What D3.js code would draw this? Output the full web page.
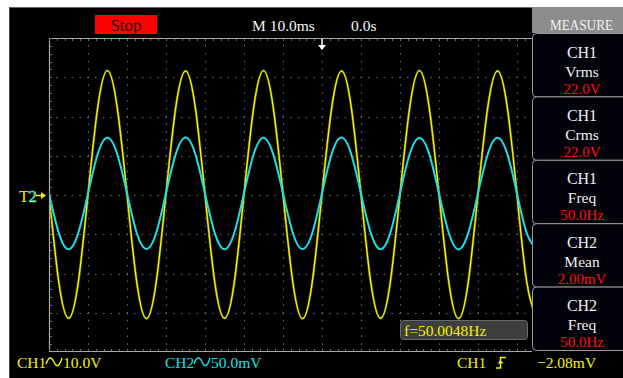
<!DOCTYPE html>
<html><head><meta charset="utf-8">
<script src="https://cdn.jsdelivr.net/npm/d3@7"></script>
<style>html,body{margin:0;padding:0;background:#fff;overflow:hidden}text{font-family:"Liberation Serif",serif}</style>
</head><body><svg id="c" width="623" height="378"></svg>
<script>
const timeMs = [-70,-67.5,-65,-62.5,-60,-57.5,-55,-52.5,-50,-47.5,-45,-42.5,-40,-37.5,-35,-32.5,-30,-27.5,-25,-22.5,-20,-17.5,-15,-12.5,-10,-7.5,-5,-2.5,0,2.5,5,7.5,10,12.5,15,17.5,20,22.5,25,27.5,30,32.5,35,37.5,40,42.5,45,47.5,50,52.5,55];
const ch1Volts = [0.2,-22.1,-31.4,-22.3,0.1,22.4,31.7,22.2,0.2,-22.2,-31.5,-22.1,0.3,22.3,31.6,22.4,0.1,-22.2,-31.4,-22.3,0.2,22.4,31.7,22.3,0.2,-22.1,-31.5,-22.2,0.3,22.3,31.6,22.4,0.1,-22.2,-31.4,-22.3,0.2,22.4,31.7,22.2,0.2,-22.1,-31.5,-22.2,0.3,22.3,31.6,22.4,0.1,-22.2,-31.4];
const ch2MilliVolts = [2.5,-48.2,-69.1,-48.6,1.8,52.3,72.8,51.9,2.2,-48.4,-68.7,-48.1,2.4,52.1,73.2,52.4,1.9,-48.3,-69.2,-48.5,2.1,52.2,72.9,51.8,2.3,-48.0,-68.8,-48.4,2.0,52.5,73.1,52.0,1.7,-48.2,-69.0,-48.6,2.4,52.3,72.7,52.1,2.0,-48.1,-69.3,-48.3,2.2,52.0,73.0,52.4,1.9,-48.5,-68.9];
const gridTimes = [-70,-60,-50,-40,-30,-20,-10,0,10,20,30,40,50,60,70];
const gridVolts = [-40,-30,-20,-10,0,10,20,30,40];
const measureChannels = ["CH1","CH1","CH1","CH2","CH2"];
const measureNames = ["Vrms","Crms","Freq","Mean","Freq"];
const measureValues = ["22.0V","22.0V","50.0Hz","2.00mV","50.0Hz"];
const statusText = "Stop", timebaseText = "M 10.0ms", delayText = "0.0s";
const ch1ScaleText = "10.0V", ch2ScaleText = "50.0mV";
const trigText = "CH1", trigLevelText = "\u22122.08mV", freqText = "f=50.0048Hz";

const YEL = "#f2f200", CYA = "#18e0e6", GRID = "#6e6e6e", BORDER = "#a8a8a8";
const svg = d3.select("#c");
const W = 623, H = 378;
const L = 49, T = 38, B = 352, R = 532;

// background
svg.append("rect").attr("width", W).attr("height", H).attr("fill", "#fff");
svg.append("rect").attr("x", 9).attr("y", 7).attr("width", W - 9).attr("height", H - 7).attr("fill", "#000");
svg.append("line").attr("x1", 9).attr("x2", W).attr("y1", 7.5).attr("y2", 7.5).attr("stroke", "#666");
svg.append("line").attr("x1", 9.5).attr("x2", 9.5).attr("y1", 7).attr("y2", H).attr("stroke", "#444");

// scales
const x = d3.scaleLinear().domain([-70, 70]).range([L, L + 14 * 39]);
const y1 = d3.scaleLinear().domain([-40, 40]).range([B, T]);
const y2 = d3.scaleLinear().domain([-200, 200]).range([B, T]);

svg.append("defs").append("clipPath").attr("id", "plot")
  .append("rect").attr("x", L).attr("y", T).attr("width", R - L).attr("height", B - T);

const g = svg.append("g").attr("clip-path", "url(#plot)");
const minor = 39 / 5, minorY = (B - T) / 40;
// vertical dotted grid
g.selectAll(".vg").data(gridTimes.slice(1)).join("line")
  .attr("x1", d => Math.round(x(d)) + 0.5).attr("x2", d => Math.round(x(d)) + 0.5)
  .attr("y1", T).attr("y2", B)
  .attr("stroke", GRID).attr("stroke-width", 1)
  .attr("stroke-dasharray", `1.5,${minorY - 1.5}`).attr("stroke-dashoffset", 0.75);
// horizontal dotted grid
g.selectAll(".hg").data(gridVolts.slice(1, -1)).join("line")
  .attr("x1", L).attr("x2", R)
  .attr("y1", d => Math.round(y1(d)) + 0.5).attr("y2", d => Math.round(y1(d)) + 0.5)
  .attr("stroke", GRID).attr("stroke-width", 1)
  .attr("stroke-dasharray", `1.5,${minor - 1.5}`).attr("stroke-dashoffset", 0.75);

// border
svg.append("path").attr("d", `M${R},${T + 0.5}H${L + 0.5}V${B - 0.5}H${R}`)
  .attr("fill", "none").attr("stroke", BORDER).attr("stroke-width", 1.2);
// border ticks
const topTicks = d3.range(L, R, minor);
svg.selectAll(".tt").data(topTicks).join("line")
  .attr("x1", d => Math.round(d) + 0.5).attr("x2", d => Math.round(d) + 0.5)
  .attr("y1", T + 1).attr("y2", T + 3).attr("stroke", GRID);
const leftTicks = d3.range(T, B, minorY);
svg.selectAll(".lt").data(leftTicks).join("line")
  .attr("y1", d => Math.round(d) + 0.5).attr("y2", d => Math.round(d) + 0.5)
  .attr("x1", L + 1).attr("x2", L + 3).attr("stroke", GRID);
svg.selectAll(".bt").data(topTicks).join("line")
  .attr("x1", d => Math.round(d) + 0.5).attr("x2", d => Math.round(d) + 0.5)
  .attr("y1", B - 3).attr("y2", B - 1).attr("stroke", GRID);

// traces
const pts1 = timeMs.map((t, i) => [t, ch1Volts[i]]);
const pts2 = timeMs.map((t, i) => [t, ch2MilliVolts[i]]);
const line1 = d3.line().x(d => x(d[0])).y(d => y1(d[1])).curve(d3.curveNatural);
const line2 = d3.line().x(d => x(d[0])).y(d => y2(d[1])).curve(d3.curveNatural);
g.append("path").attr("d", line1(pts1)).attr("fill", "none").attr("stroke", "#8a8a00").attr("stroke-width", 2.6).attr("opacity", 0.6);
g.append("path").attr("d", line1(pts1)).attr("fill", "none").attr("stroke", YEL).attr("stroke-width", 1.4);
g.append("path").attr("d", line2(pts2)).attr("fill", "none").attr("stroke", CYA).attr("stroke-width", 2);

// trigger position arrow (top)
svg.append("line").attr("x1", x(0)).attr("x2", x(0)).attr("y1", T + 1).attr("y2", 46).attr("stroke", "#fff").attr("stroke-width", 1.5);
svg.append("path").attr("d", `M${x(0) - 4},45L${x(0) + 4},45L${x(0)},50Z`).attr("fill", "#fff");

// channel / trigger marker (left): "T" + "2" (CH1/CH2 markers coincide)
const my = y1(0);
const mk = svg.append("text").attr("x", 19).attr("y", my + 7).attr("font-size", 16).attr("fill", YEL);
mk.append("tspan").text("T");
mk.append("tspan").attr("fill", YEL).attr("stroke", CYA).attr("stroke-width", 0.6).text("2");
svg.append("line").attr("x1", 36).attr("x2", 42).attr("y1", my + 0.5).attr("y2", my + 0.5).attr("stroke", YEL).attr("stroke-width", 1.5);
svg.append("path").attr("d", `M41,${my - 3}L46,${my + 0.5}L41,${my + 4}Z`).attr("fill", YEL);

// top status
svg.append("rect").attr("x", 95).attr("y", 15).attr("width", 62).attr("height", 19).attr("fill", "#ff0000");
svg.append("text").attr("x", 126).attr("y", 30.5).attr("text-anchor", "middle").attr("font-size", 17).attr("fill", "#200000").text(statusText);
svg.append("text").attr("x", 252).attr("y", 30.5).attr("font-size", 15.5).attr("fill", "#f4f4f4").text(timebaseText);
svg.append("text").attr("x", 351).attr("y", 30.5).attr("font-size", 15.5).attr("fill", "#f4f4f4").text(delayText);

// measure panel
svg.append("rect").attr("x", 532).attr("y", 7).attr("width", W - 532).attr("height", 26).attr("fill", "#8c8c8c");
svg.append("text").attr("x", 550).attr("y", 29.5).attr("font-size", 15)
  .attr("textLength", 63).attr("lengthAdjust", "spacingAndGlyphs").attr("fill", "#f2f2f2").text("MEASURE");
const boxH = (350 - 33) / 5;
const mg = svg.selectAll(".mb").data(measureNames).join("g").attr("transform", (d, i) => `translate(0,${33 + i * boxH})`);
mg.append("rect").attr("x", 532.5).attr("y", 0.5).attr("width", 100).attr("height", boxH).attr("rx", 4)
  .attr("fill", "#02020a").attr("stroke", "#9a9a9a").attr("stroke-width", 1);
mg.append("text").attr("x", 582).attr("y", 24.5).attr("text-anchor", "middle").attr("font-size", 16).attr("fill", "#f0f0f0").text((d, i) => measureChannels[i]);
mg.append("text").attr("x", 582).attr("y", 43.5).attr("text-anchor", "middle").attr("font-size", 15.5).attr("fill", "#f0f0f0").text(d => d);
mg.append("text").attr("x", 582).attr("y", 60.5).attr("text-anchor", "middle").attr("font-size", 15).attr("fill", "#ff1010").text((d, i) => measureValues[i]);

// frequency counter box
svg.append("rect").attr("x", 400.5).attr("y", 320.5).attr("width", 127).attr("height", 19).attr("rx", 3)
  .attr("fill", "#3e3e3e").attr("stroke", "#6a6a6a");
svg.append("text").attr("x", 404).attr("y", 336).attr("font-size", 15.5).attr("fill", YEL).text(freqText);

// bottom status line
function acSymbol(x0, color) {
  svg.append("path").attr("d", `M${x0},364 Q${x0 + 4},353 ${x0 + 8},362 Q${x0 + 12},371 ${x0 + 16},358`)
    .attr("fill", "none").attr("stroke", color).attr("stroke-width", 1.4);
}
svg.append("text").attr("x", 17).attr("y", 367.5).attr("font-size", 15.5).attr("fill", YEL).text("CH1");
acSymbol(46, YEL);
svg.append("text").attr("x", 63).attr("y", 367.5).attr("font-size", 15.5).attr("fill", YEL).text(ch1ScaleText);
svg.append("text").attr("x", 165).attr("y", 367.5).attr("font-size", 15.5).attr("fill", CYA).text("CH2");
acSymbol(194, CYA);
svg.append("text").attr("x", 211).attr("y", 367.5).attr("font-size", 15.5).attr("fill", CYA).text(ch2ScaleText);
svg.append("text").attr("x", 457).attr("y", 367.5).attr("font-size", 15.5).attr("fill", YEL).text(trigText);
svg.append("path").attr("d", "M496,368H500.5V357.5H506").attr("fill", "none").attr("stroke", YEL).attr("stroke-width", 1.5);
svg.append("path").attr("d", "M497.5,363.5L500.5,360L503.5,363.5Z").attr("fill", YEL);
svg.append("text").attr("x", 537).attr("y", 367.5).attr("font-size", 15.5).attr("fill", YEL).text(trigLevelText);
</script></body></html>
